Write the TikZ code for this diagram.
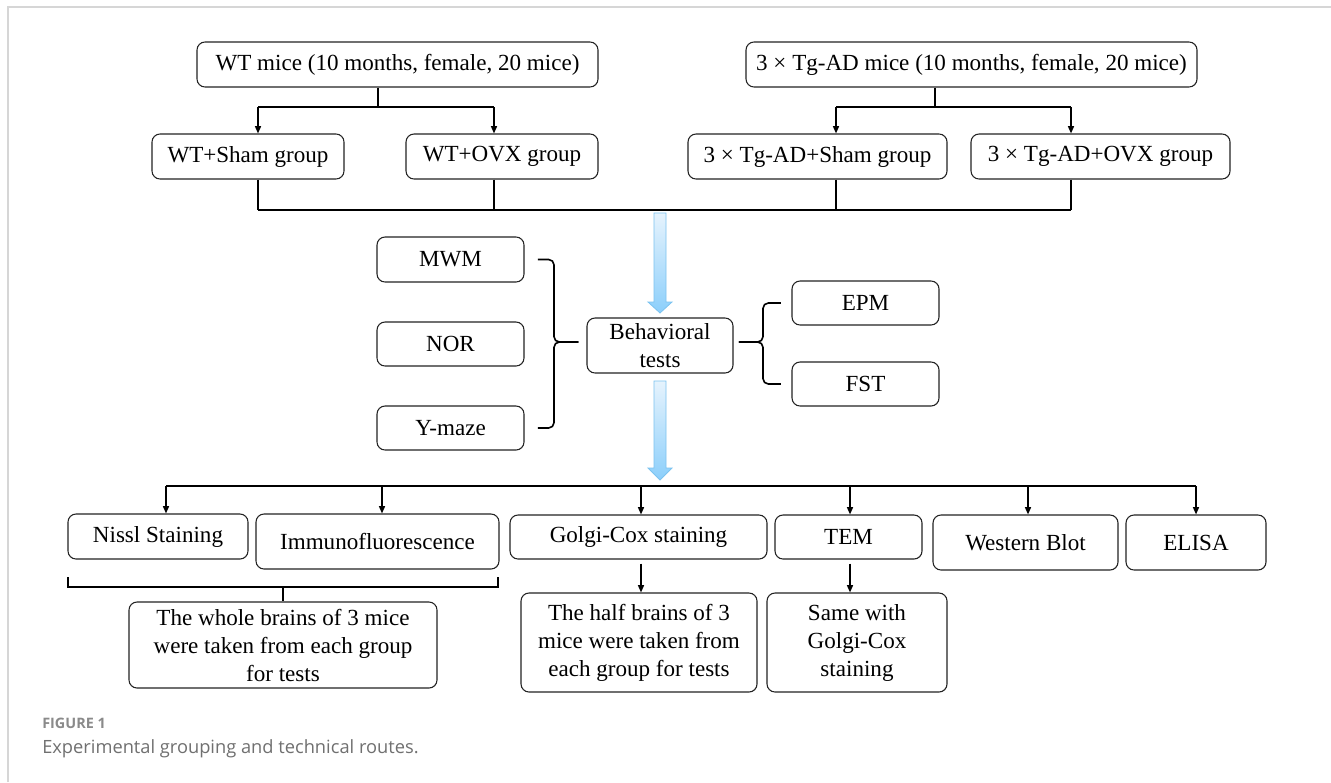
\documentclass[tikz,border=0pt]{standalone}
\usepackage{fontspec}
\setmainfont{Liberation Serif}
\newfontfamily\capfont{Open Sans}
\usetikzlibrary{arrows.meta}
\definecolor{framegray}{HTML}{D6D6D6}
\definecolor{boxline}{HTML}{222222}
\definecolor{bluetop}{HTML}{E6F3FD}
\definecolor{bluebot}{HTML}{8CCFFB}
\definecolor{blueedge}{HTML}{7CC3F0}
\definecolor{capgray}{HTML}{8A8A8A}
\definecolor{captext}{HTML}{707070}
\begin{document}
\begin{tikzpicture}[x=0.75pt,y=-0.75pt,
  bx/.style={draw=boxline, line width=0.8pt, rounded corners=6pt, align=center, inner sep=0pt, font=\fontsize{17.3pt}{21pt}\selectfont},
  wh/.style 2 args={minimum width=#1*0.75pt, minimum height=#2*0.75pt},
  ln/.style={line width=1.1pt, black},
  arr/.style={ln, -{Triangle[length=5.5pt,width=4.5pt]}},
  bracepath/.style={line width=1.2pt, rounded corners=4pt},
  bigarrow/.style={top color=bluetop, bottom color=bluebot, draw=blueedge, line width=0.6pt}
]
\useasboundingbox (0,0) rectangle (1331,782);
\fill[white] (0,0) rectangle (1331,782);
\draw[framegray, line width=1.5pt] (8,782) -- (8,7) -- (1331,7);

% top row
\node[bx, wh={401}{45}] (wt) at (397.5,64.5) {WT mice (10 months, female, 20 mice)};
\node[bx, wh={451}{45}] (tg) at (971.5,64.5) {3 × Tg-AD mice (10 months, female, 20 mice)};
% second row
\node[bx, wh={192}{45}] (wtsham) at (248,156.5) {WT+Sham group};
\node[bx, wh={192}{45}] (wtovx) at (502,156.5) {WT+OVX group};
\node[bx, wh={259}{45}] (tgsham) at (817.5,156.5) {3 × Tg-AD+Sham group};
\node[bx, wh={259}{45}] (tgovx) at (1100.5,156.5) {3 × Tg-AD+OVX group};

% branching coordinates
\coordinate (wtb) at (378,107);
\coordinate (xa) at (258,107);
\coordinate (xb) at (494,107);
\coordinate (tgb) at (935,107);
\coordinate (xc) at (836,107);
\coordinate (xd) at (1071,107);
\coordinate (ca) at (258,210);
\coordinate (cd) at (1071,210);

\draw[ln] (wt.south -| wtb) -- (wtb);
\draw[ln] (xa) -- (xb);
\draw[arr] (xa) -- (xa |- wtsham.north);
\draw[arr] (xb) -- (xb |- wtovx.north);
\draw[ln] (tg.south -| tgb) -- (tgb);
\draw[ln] (xc) -- (xd);
\draw[arr] (xc) -- (xc |- tgsham.north);
\draw[arr] (xd) -- (xd |- tgovx.north);

\draw[ln] (xa |- wtsham.south) -- (ca);
\draw[ln] (xb |- wtovx.south) -- (xb |- ca);
\draw[ln] (xc |- tgsham.south) -- (xc |- ca);
\draw[ln] (xd |- tgovx.south) -- (cd);
\draw[ln] (ca) -- (cd);

% middle
\node[bx, wh={147}{45}] (mwm) at (450.5,259.5) {MWM};
\node[bx, wh={147}{44}] (nor) at (450.5,344) {NOR};
\node[bx, wh={147}{44}] (ymaze) at (450.5,428) {Y-maze};
\node[bx, wh={146}{55}] (beh) at (660,345.5) {Behavioral\\tests};
\node[bx, wh={147}{44}] (epm) at (865.5,303) {EPM};
\node[bx, wh={147}{44}] (fst) at (865.5,384) {FST};

% blue arrows
\shade[bigarrow] (654,213) -- (666,213) -- (666,302) -- (672,302) -- (660,313) -- (648,302) -- (654,302) -- cycle;
\shade[bigarrow] (654,381) -- (666,381) -- (666,468) -- (672,468) -- (660,480) -- (648,468) -- (654,468) -- cycle;

% braces
\coordinate (lbt) at (554,342);
\draw[bracepath] ([xshift=10pt]mwm.east) -- (mwm.east -| lbt) -- (lbt) -- ([xshift=-6pt]beh.west |- lbt);
\draw[bracepath] ([xshift=10pt]ymaze.east) -- (ymaze.east -| lbt) -- (lbt) -- ([xshift=-6pt]beh.west |- lbt);
\coordinate (rbt) at (763,342);
\draw[bracepath] ([xshift=-8pt]epm.west) -- (epm.west -| rbt) -- (rbt) -- ([xshift=4pt]beh.east |- rbt);
\draw[bracepath] ([xshift=-8pt]fst.west) -- (fst.west -| rbt) -- (rbt) -- ([xshift=4pt]beh.east |- rbt);

% bottom row
\node[bx, wh={180}{45}] (nissl) at (158,536.5) {Nissl Staining};
\node[bx, wh={243}{55}] (immuno) at (377.5,541.5) {Immunofluorescence};
\node[bx, wh={257}{44}] (golgi) at (638.5,537) {Golgi-Cox staining};
\node[bx, wh={147}{44}] (tem) at (848.5,537) {TEM};
\node[bx, wh={185}{55}] (western) at (1025.5,542.5) {Western Blot};
\node[bx, wh={140}{55}] (elisa) at (1196,542.5) {ELISA};

\coordinate (ba) at (166,486);
\coordinate (bb) at (382,486);
\coordinate (bc) at (641,486);
\coordinate (bd) at (850,486);
\coordinate (be) at (1028,486);
\coordinate (bf) at (1196,486);
\draw[ln] (ba) -- (bf);
\draw[arr] (ba) -- (ba |- nissl.north);
\draw[arr] (bb) -- (bb |- immuno.north);
\draw[arr] (bc) -- (bc |- golgi.north);
\draw[arr] (bd) -- (bd |- tem.north);
\draw[arr] (be) -- (be |- western.north);
\draw[arr] (bf) -- (bf |- elisa.north);

% third row
\node[bx, wh={308}{86}] (whole) at (283,645) {The whole brains of 3 mice\\were taken from each group\\for tests};
\node[bx, wh={236}{99}] (half) at (639,642.5) {The half brains of 3\\mice were taken from\\each group for tests};
\node[bx, wh={180}{99}] (same) at (857,642.5) {Same with\\Golgi-Cox\\staining};

\draw[line width=1pt] (68,577) -- (68,587) -- (498,587) -- (498,577);
\draw[line width=1pt] (whole.north |- 0,587) -- (whole.north);
\draw[arr] ([yshift=-3pt]bc |- golgi.south) -- (bc |- half.north);
\draw[arr] ([yshift=-3pt]bd |- tem.south) -- (bd |- same.north);

% caption
\node[anchor=west, inner sep=0pt, text=capgray, font=\capfont\bfseries\fontsize{10.8pt}{12pt}\selectfont] (figlab) at (42,723) {FIGURE 1};
\node[anchor=west, inner sep=0pt, text=captext, font=\capfont\fontsize{13.7pt}{16pt}\selectfont] (caption) at (42,749) {Experimental grouping and technical routes.};
\end{tikzpicture}
\end{document}
